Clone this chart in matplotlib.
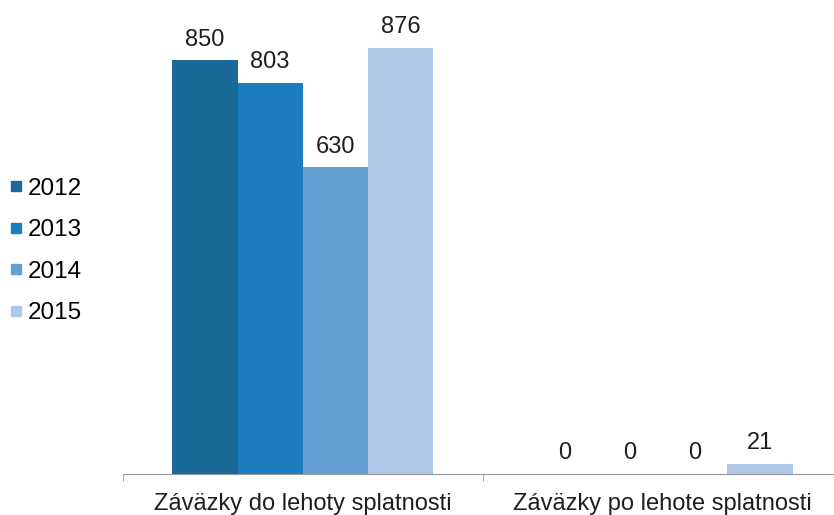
import matplotlib
matplotlib.use("Agg")
import matplotlib.pyplot as plt
from matplotlib.lines import Line2D
import numpy as np

plt.rcParams['font.family'] = ['Liberation Sans', 'DejaVu Sans']

categories = ["Záväzky do lehoty splatnosti", "Záväzky po lehote splatnosti"]
years = ["2012", "2013", "2014", "2015"]
values_2012 = [850, 0]
values_2013 = [803, 0]
values_2014 = [630, 0]
values_2015 = [876, 21]
colors = ["#196a98", "#1b7dbd", "#64a0d4", "#b0c8e8"]

series = [values_2012, values_2013, values_2014, values_2015]

fig = plt.figure(figsize=(8.34, 5.15), dpi=100)
# axes reaches a little past the right edge, as in the original
ax = fig.add_axes([123 / 834, 1 - 474 / 515, 719 / 834, 438 / 515])

x = np.arange(len(categories))
width = 0.1815
for i, (vals, col) in enumerate(zip(series, colors)):
    pos = x + (i - 1.5) * width
    bars = ax.bar(pos, vals, width, color=col, label=years[i])
    for b, v in zip(bars, vals):
        ax.annotate(str(v), (b.get_x() + b.get_width() / 2, v),
                    xytext=(0, 7), textcoords="offset points",
                    ha="center", va="bottom", fontsize=17,
                    color="#1e1e1e", annotation_clip=False)

ax.set_xlim(-0.5, 1.5)
ax.set_ylim(0, 900)
for s in ["top", "right", "left"]:
    ax.spines[s].set_visible(False)
ax.spines["bottom"].set_color("#999999")
ax.set_yticks([])
ax.set_xticks(x)
ax.set_xticklabels(categories, fontsize=17, color="#1e1e1e")
ax.tick_params(axis="x", which="major", length=0, pad=14)
ax.set_xticks([-0.5, 0.5, 1.5], minor=True)
ax.tick_params(axis="x", which="minor", length=5, color="#999999", direction="out")

handles = [Line2D([], [], marker="s", linestyle="", markersize=7.2,
                  markerfacecolor=c, markeredgecolor=c) for c in colors]
fig.legend(handles, years, loc="center left", bbox_to_anchor=(0.0, 0.5125),
           frameon=False, fontsize=17.5, handlelength=0.55, handletextpad=0.2,
           labelspacing=0.8, borderaxespad=0.0, borderpad=0.4)

fig.savefig("out.png", dpi=100)
